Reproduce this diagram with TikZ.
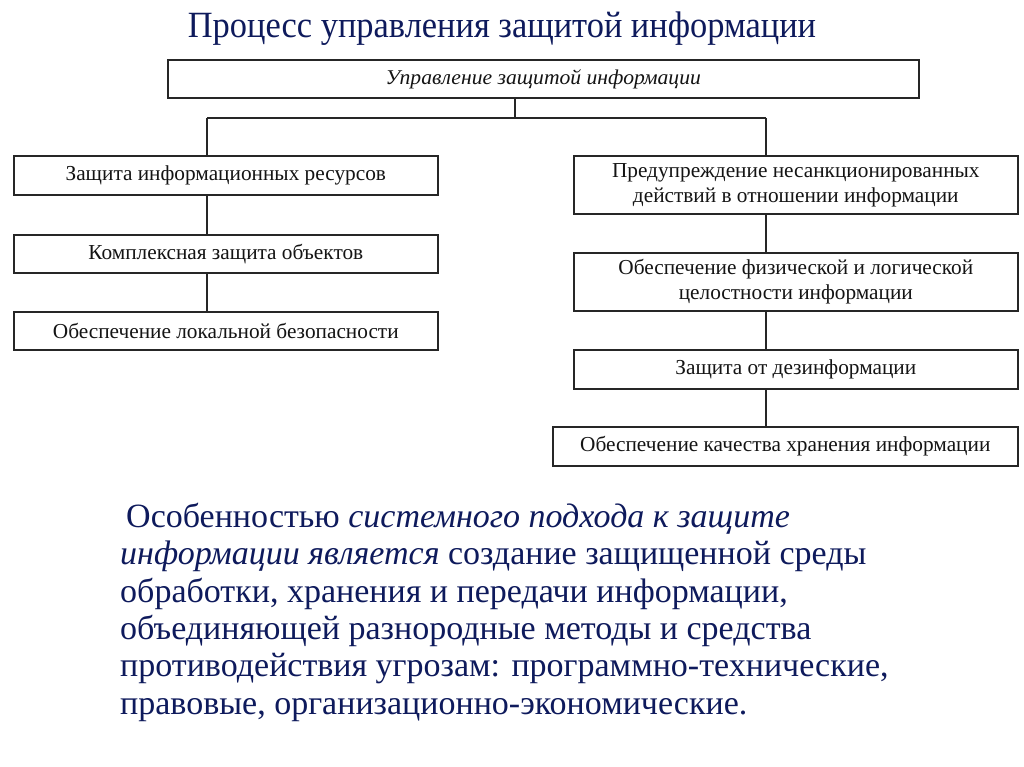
\documentclass[tikz,border=0pt]{standalone}
\usepackage{fontspec}
\setmainfont{Liberation Serif}
\newfontfamily\titleserif[FakeStretch=0.93]{Liberation Serif}
\newfontfamily\boxserif{Liberation Serif}
\newfontfamily\topserif[FakeStretch=1.03]{Liberation Serif}
\definecolor{navy}{HTML}{0E1A5C}
\definecolor{boxtext}{HTML}{141414}
\begin{document}
\begin{tikzpicture}[x=1pt,y=-1pt,
  box/.style={draw=black!85,line width=1.6pt,inner sep=0pt,anchor=north west,
    align=center,text=boxtext,font=\boxserif\fontsize{21.3}{25}\selectfont},
  conn/.style={draw=black!85,line width=1.3pt}]
\useasboundingbox (0,0) rectangle (1024,767);
\fill[white] (0,0) rectangle (1024,767);
\node[anchor=center,text=navy,font=\titleserif\fontsize{37}{42}\selectfont] (title) at (502,29) {Процесс управления защитой информации};
\node[box,minimum width=751pt,minimum height=38pt,font=\topserif\itshape\fontsize{21}{24}\selectfont] (top) at (167,59) {Управление защитой информации};
\node[box,minimum width=424pt,minimum height=39pt] (L1) at (13,155) {Защита информационных ресурсов};
\node[box,minimum width=424pt,minimum height=38pt] (L2) at (13,234) {Комплексная защита объектов};
\node[box,minimum width=424pt,minimum height=38pt] (L3) at (13,311) {Обеспечение локальной безопасности};
\node[box,minimum width=444pt,minimum height=58pt] (R1) at (573,155) {Предупреждение несанкционированных\\действий в отношении информации};
\node[box,minimum width=444pt,minimum height=58pt] (R2) at (573,252) {Обеспечение физической и логической\\целостности информации};
\node[box,minimum width=444pt,minimum height=39pt] (R3) at (573,349) {Защита от дезинформации};
\node[box,minimum width=465pt,minimum height=39pt] (R4) at (552,426) {Обеспечение качества хранения информации};
\coordinate (bj) at (515,118);
\coordinate (bl) at (207,118);
\coordinate (br) at (766,118);
\draw[conn] (top.south -| bj) -- (bj);
\draw[conn] (bl) -- (br);
\draw[conn] (bl) -- (bl |- L1.north);
\draw[conn] (L1.south -| bl) -- (L2.north -| bl);
\draw[conn] (L2.south -| bl) -- (L3.north -| bl);
\draw[conn] (br) -- (br |- R1.north);
\draw[conn] (R1.south -| br) -- (R2.north -| br);
\draw[conn] (R2.south -| br) -- (R3.north -| br);
\draw[conn] (R3.south -| br) -- (R4.north -| br);
\node[anchor=north west,inner sep=0pt,align=left,text=navy,font=\fontsize{34}{37.3}\selectfont] (body) at (120,503) {\hspace*{6pt}Особенностью \textit{системного подхода к защите}\\
\textit{информации является} создание защищенной среды\\
обработки, хранения и передачи информации,\\
объединяющей разнородные методы и средства\\
противодействия угрозам: программно-технические,\\
правовые, организационно-экономические.};
\end{tikzpicture}
\end{document}
